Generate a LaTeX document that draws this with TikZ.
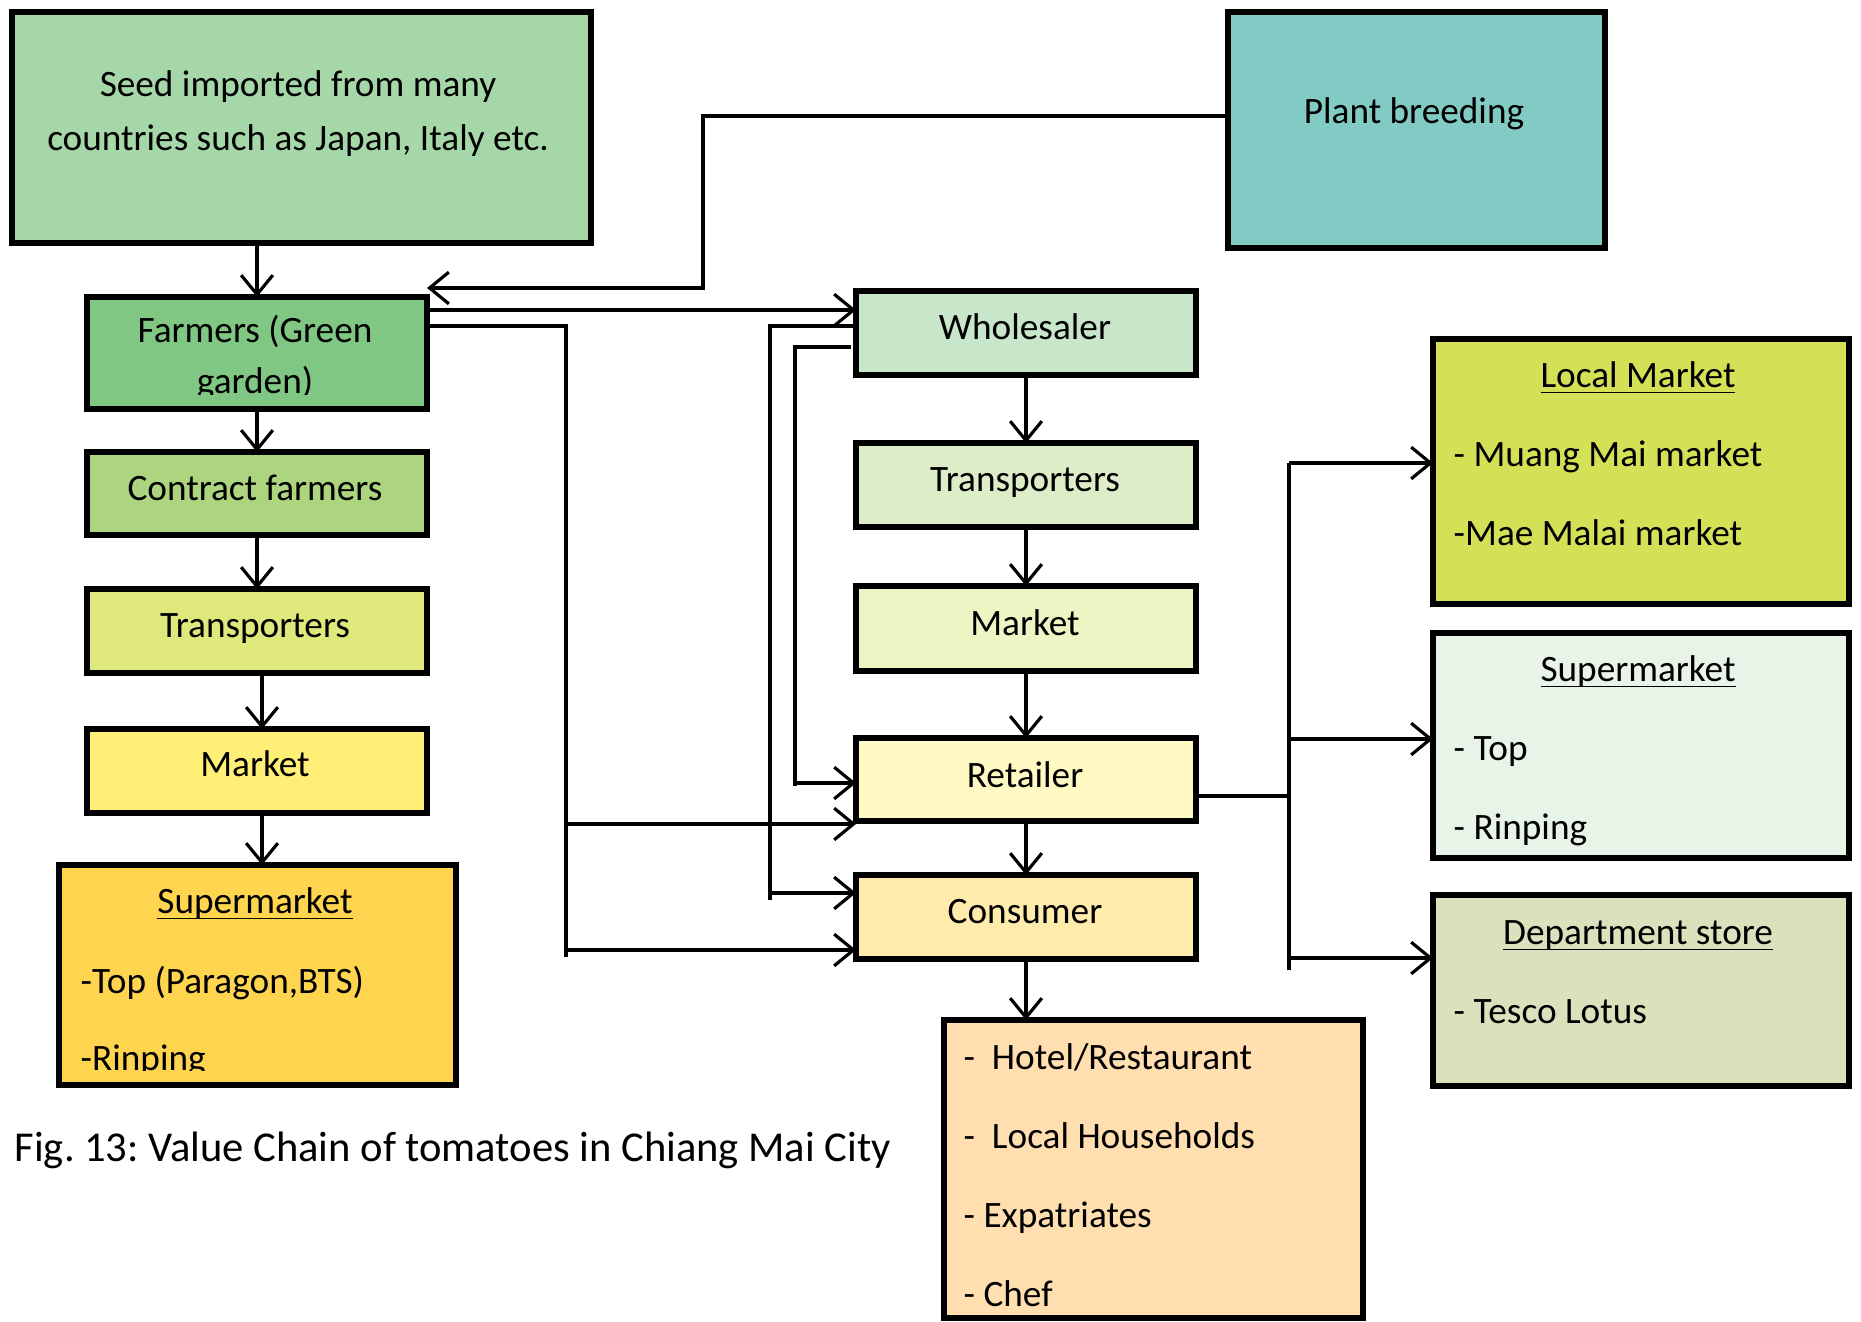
\documentclass[tikz,border=0pt]{standalone}
\usepackage{fontspec}
\setmainfont{Carlito}
\usetikzlibrary{arrows.meta,fit}
\frenchspacing
\newcommand\myul[1]{\underline{\smash{#1}}}
\definecolor{cSeed}{HTML}{A6D7A8}
\definecolor{cPlant}{HTML}{82CBC4}
\definecolor{cFarm}{HTML}{7FC782}
\definecolor{cContract}{HTML}{ADD580}
\definecolor{cTransL}{HTML}{DFE87A}
\definecolor{cMarketL}{HTML}{FFEF77}
\definecolor{cSuperL}{HTML}{FFD54F}
\definecolor{cWhole}{HTML}{C8E6CA}
\definecolor{cTransR}{HTML}{DDEDC8}
\definecolor{cMarketR}{HTML}{EEF5C4}
\definecolor{cRetail}{HTML}{FFF9C4}
\definecolor{cCons}{HTML}{FFECAD}
\definecolor{cEnd}{HTML}{FFDFB0}
\definecolor{cLocal}{HTML}{D4E157}
\definecolor{cSuperR}{HTML}{E7F4E7}
\definecolor{cDept}{HTML}{D9E2BC}
\begin{document}
\begin{tikzpicture}[x=0.01cm,y=-0.01cm,
  box/.style={draw=black, line width=1.9pt, inner sep=0pt, outer sep=0pt},
  txt/.style={font=\fontsize{10.6}{13}\selectfont, inner sep=0pt, anchor=mid},
  ltxt/.style={txt, anchor=mid west},
  arr/.style={line width=0.9pt, -{Straight Barb[length=5.5pt,width=9pt]}},
  ln/.style={line width=0.9pt}]
\useasboundingbox (0,0) rectangle (1861,1322);

% boxes
\node[box, fill=cSeed, fit={(12,12)(591,243)}] (seed) {};
\node[box, fill=cPlant, fit={(1228,12)(1605,248)}] (plant) {};
\node[box, fill=cFarm, fit={(87,297)(427,409)}] (farm) {};
\node[box, fill=cContract, fit={(87,452)(427,535)}] (contract) {};
\node[box, fill=cTransL, fit={(87,589)(427,673)}] (transL) {};
\node[box, fill=cMarketL, fit={(87,729)(427,813)}] (marketL) {};
\node[box, fill=cSuperL, fit={(59,865)(456,1085)}] (superL) {};
\node[box, fill=cWhole, fit={(856,291)(1196,375)}] (whole) {};
\node[box, fill=cTransR, fit={(856,443)(1196,527)}] (transR) {};
\node[box, fill=cMarketR, fit={(856,586)(1196,671)}] (marketR) {};
\node[box, fill=cRetail, fit={(856,738)(1196,821)}] (retail) {};
\node[box, fill=cCons, fit={(856,875)(1196,959)}] (cons) {};
\node[box, fill=cEnd, fit={(944,1020)(1363,1318)}] (endusers) {};
\node[box, fill=cLocal, fit={(1433,339)(1849,604)}] (local) {};
\node[box, fill=cSuperR, fit={(1433,633)(1849,858)}] (superR) {};
\node[box, fill=cDept, fit={(1433,895)(1849,1086)}] (dept) {};

% texts
\node[txt] (seedA) at (298,88) {Seed imported from many};
\node[txt] (seedB) at (298,142) {countries such as Japan, Italy etc.};
\node[txt] (plantT) at (1414,115) {Plant breeding};
\begin{scope}
\clip (90,300) rectangle (424,395);
\node[txt] (farmA) at (255,334) {Farmers (Green};
\node[txt] (farmB) at (255,385) {garden)};
\end{scope}
\node[txt] (contractT) at (255,492) {Contract farmers};
\node[txt] (transLT) at (255,629) {Transporters};
\node[txt] (marketLT) at (255,768) {Market};
\node[txt] (superLH) at (255,905) {\myul{Supermarket}};
\node[ltxt] (superLA) at (80,985) {-Top (Paragon,BTS)};
\begin{scope}
\clip (62,868) rectangle (453,1070);
\node[ltxt] (superLB) at (80,1062) {-Rinping};
\end{scope}
\node[txt] (wholeT) at (1025,331) {Wholesaler};
\node[txt] (transRT) at (1025,483) {Transporters};
\node[txt] (marketRT) at (1025,627) {Market};
\node[txt] (retailT) at (1025,779) {Retailer};
\node[txt] (consT) at (1025,915) {Consumer};
\node[ltxt] (endA) at (963,1061) {-\ \ Hotel/Restaurant};
\node[ltxt] (endB) at (963,1140) {-\ \ Local Households};
\node[ltxt] (endC) at (963,1219) {- Expatriates};
\node[ltxt] (endD) at (963,1298) {- Chef};
\node[txt] (localH) at (1638,379) {\myul{Local Market}};
\node[ltxt] (localA) at (1453,458) {- Muang Mai market};
\node[ltxt] (localB) at (1453,537) {-Mae Malai market};
\node[txt] (superRH) at (1638,673) {\myul{Supermarket}};
\node[ltxt] (superRA) at (1453,752) {- Top};
\node[ltxt] (superRB) at (1453,831) {- Rinping};
\node[txt] (deptH) at (1638,936) {\myul{Department store}};
\node[ltxt] (deptA) at (1453,1015) {- Tesco Lotus};
\node[inner sep=0pt, anchor=mid west, font=\fontsize{12.1}{14}\selectfont] (cap) at (14,1153) {Fig. 13: Value Chain of tomatoes in Chiang Mai City};

% left chain
\draw[arr] (farm.north |- seed.south) -- (farm.north);
\draw[arr] (farm.south) -- (contract.north);
\draw[arr] (contract.south) -- (transL.north);
\draw[arr] (transL.south -| 262,0) -- (marketL.north -| 262,0);
\draw[arr] (marketL.south -| 262,0) -- (superL.north -| 262,0);

% plant breeding to farmers
\coordinate (pbBend) at (703,288);
\draw[arr] (plant.west |- 0,116) -| (pbBend) -- (farm.east |- pbBend);

% farmers to wholesaler
\draw[arr] (farm.east |- 0,310) -- (whole.west |- 0,310);

% farmers branch to retailer and consumer
\coordinate (fbTop) at (566,326);
\coordinate (fbBot) at (566,957);
\draw[ln] (farm.east |- fbTop) -- (fbTop) -- (fbBot);
\draw[arr] (566,824) -- (retail.west |- 0,824);
\draw[arr] (566,950) -- (cons.west |- 0,950);

% wholesaler to consumer
\coordinate (wcTop) at (770,326);
\coordinate (wcBot) at (770,900);
\draw[ln] (whole.west |- wcTop) -- (wcTop) -- (wcBot);
\draw[arr] (770,893) -- (cons.west |- 0,893);

% wholesaler to retailer
\coordinate (wrTop) at (795,347);
\coordinate (wrBot) at (795,786);
\draw[ln] ([xshift=-1.4pt]whole.west |- wrTop) -- (wrTop) -- (wrBot);
\draw[arr] (795,783) -- (retail.west |- 0,783);

% right chain
\draw[arr] (whole.south) -- (transR.north);
\draw[arr] (transR.south) -- (marketR.north);
\draw[arr] (marketR.south) -- (retail.north);
\draw[arr] (retail.south) -- (cons.north);
\draw[arr] (cons.south) -- (cons.south |- endusers.north);

% retailer to outlets
\coordinate (rTop) at (1289,463);
\coordinate (rBot) at (1289,970);
\draw[ln] (retail.east |- 0,796) -- (rTop |- 0,796);
\draw[ln] (rTop) -- (rBot);
\draw[arr] (rTop) -- (local.west |- rTop);
\draw[arr] (1289,739) -- (superR.west |- 0,739);
\draw[arr] (1289,958) -- (dept.west |- 0,958);
\end{tikzpicture}
\end{document}
